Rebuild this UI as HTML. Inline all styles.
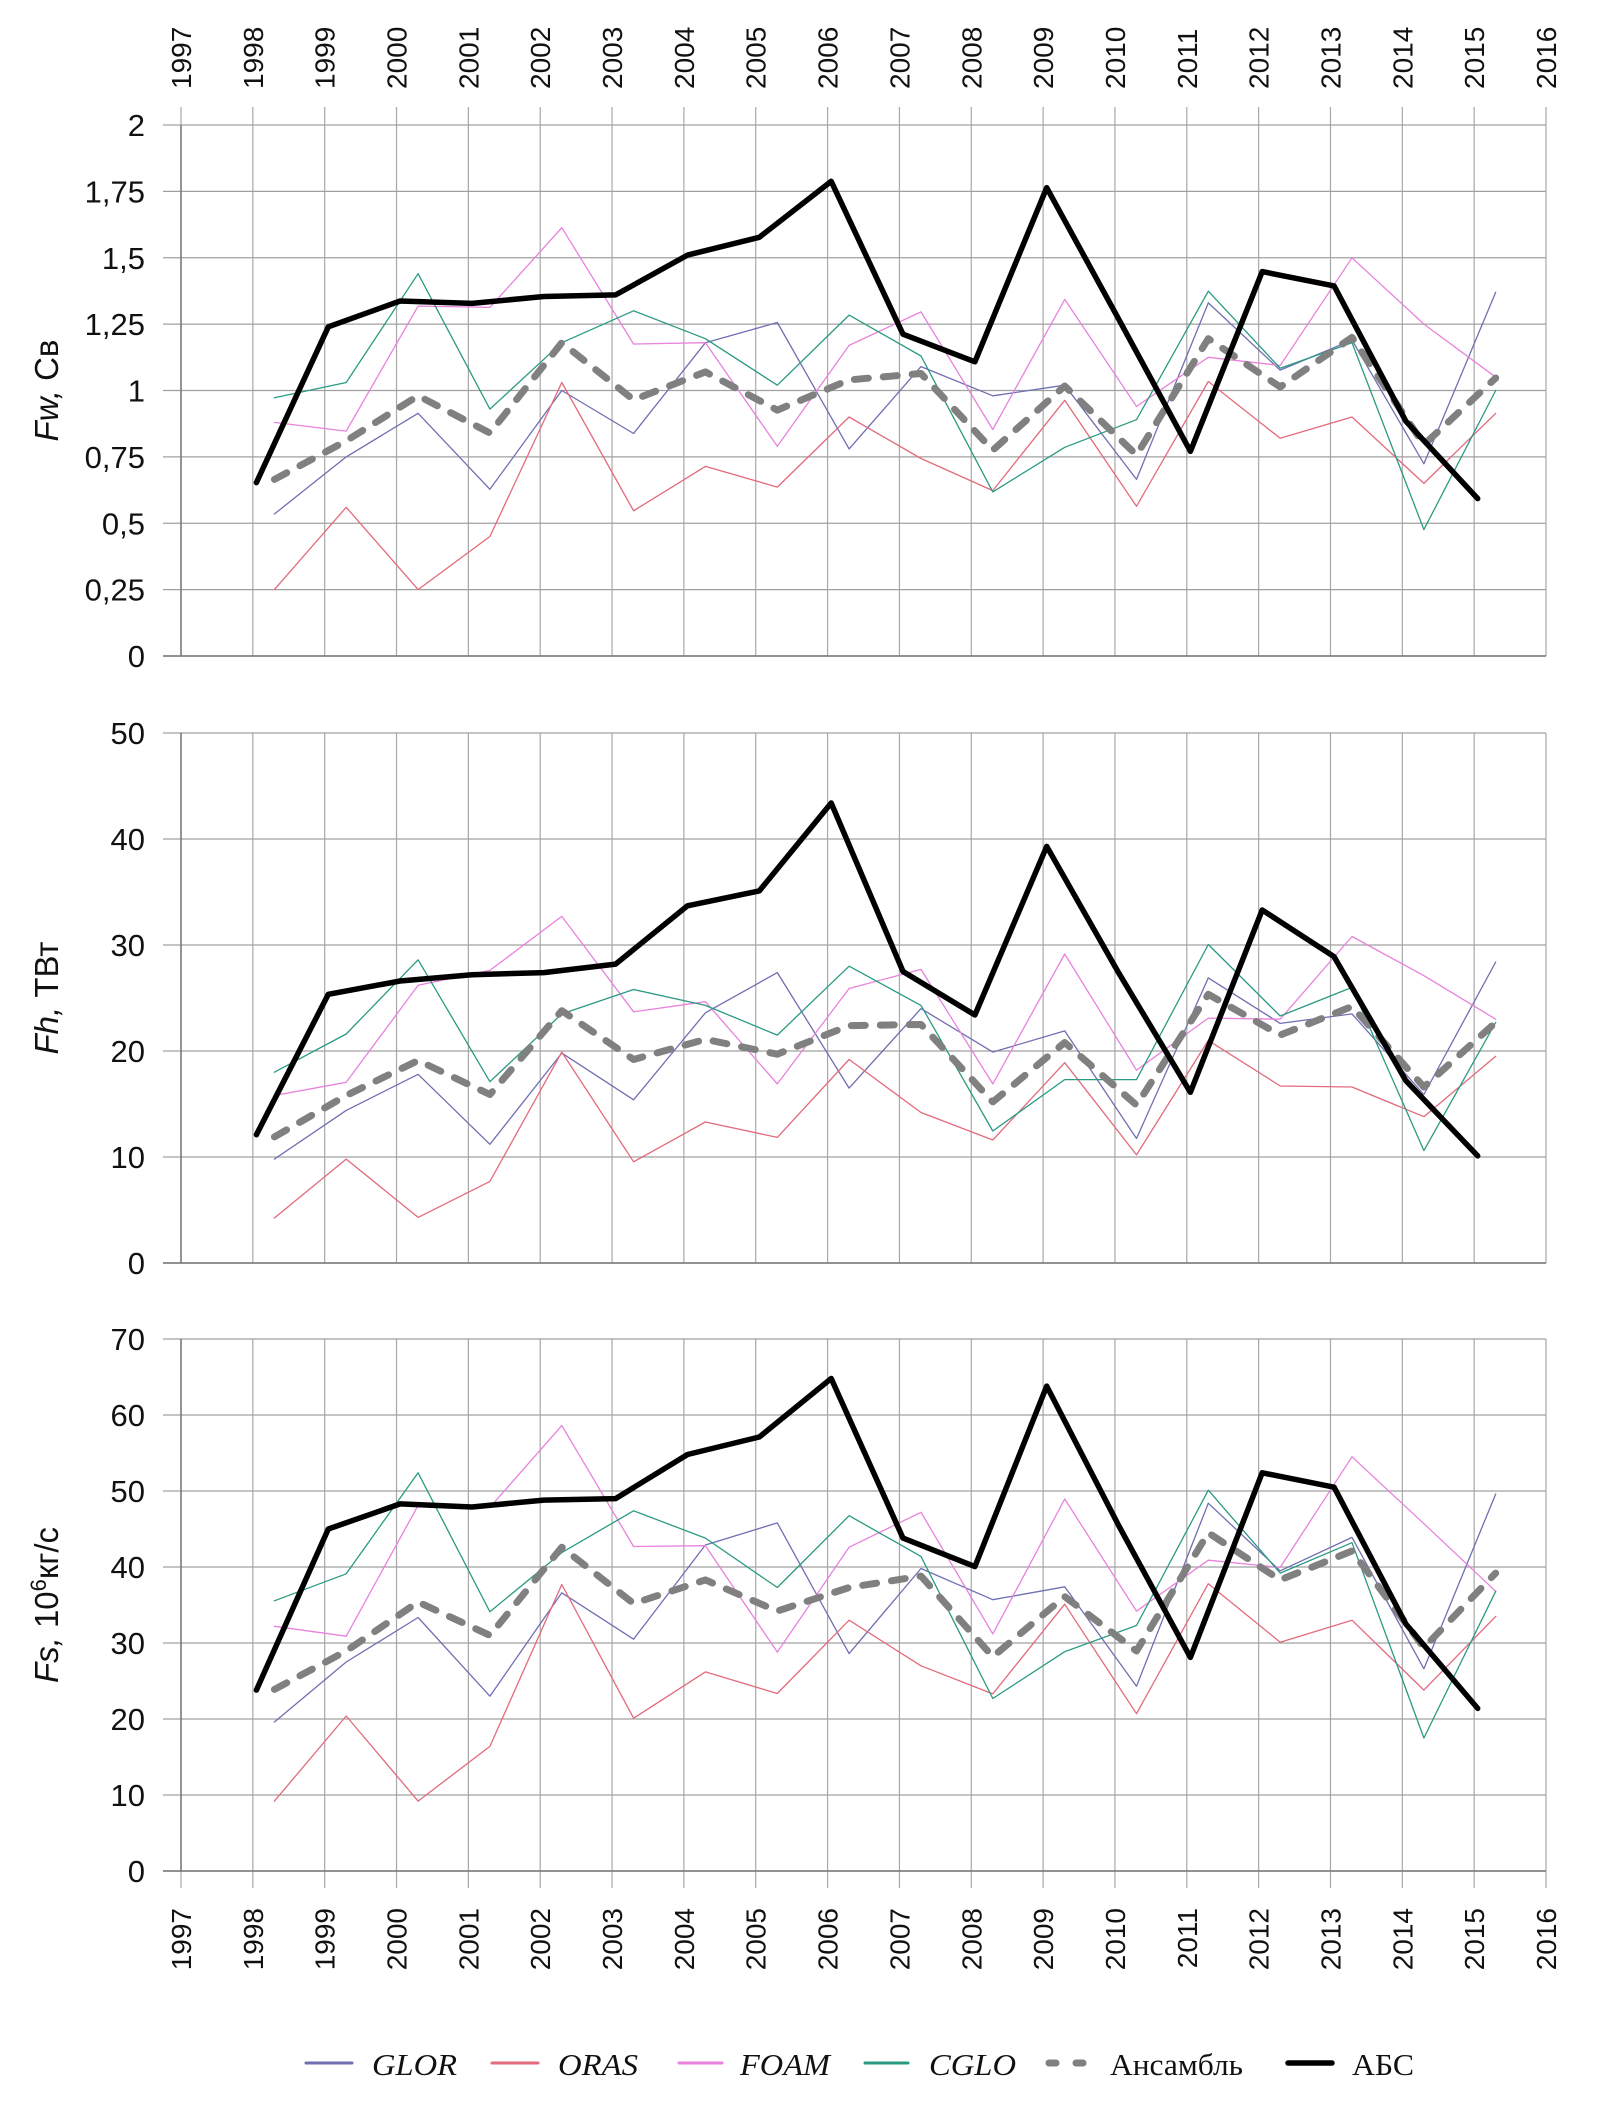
<!DOCTYPE html>
<html><head><meta charset="utf-8"><style>
body{margin:0;background:#fff;}
svg{display:block;font-family:"Liberation Sans",sans-serif;}
</style></head><body>
<svg id="chart" width="1599" height="2122" viewBox="0 0 1599 2122" xmlns="http://www.w3.org/2000/svg"></svg>
<script>
const years = [1998,1999,2000,2001,2002,2003,2004,2005,2006,2007,2008,2009,2010,2011,2012,2013,2014,2015];
const axisYears = [1997,1998,1999,2000,2001,2002,2003,2004,2005,2006,2007,2008,2009,2010,2011,2012,2013,2014,2015,2016];
const fwTicks = ["0","0,25","0,5","0,75","1","1,25","1,5","1,75","2"];
const fhTicks = ["0","10","20","30","40","50"];
const fsTicks = ["0","10","20","30","40","50","60","70"];
const seriesNames = ["GLOR","ORAS","FOAM","CGLO","Ансамбль","АБС"];

const fwGLOR = [0.535,0.75,0.914,0.628,1.0,0.838,1.18,1.256,0.78,1.09,0.98,1.02,0.665,1.33,1.077,1.19,0.724,1.37];
const fwORAS = [0.25,0.56,0.25,0.45,1.03,0.547,0.714,0.636,0.9,0.744,0.623,0.963,0.564,1.034,0.82,0.9,0.65,0.914];
const fwFOAM = [0.88,0.847,1.318,1.313,1.613,1.175,1.18,0.79,1.17,1.296,0.853,1.343,0.94,1.125,1.094,1.5,1.25,1.05];
const fwCGLO = [0.973,1.03,1.44,0.93,1.18,1.3,1.195,1.02,1.284,1.13,0.618,0.786,0.89,1.374,1.084,1.18,0.476,1.0];
const fwENS = [0.665,0.81,0.98,0.84,1.18,0.965,1.07,0.926,1.04,1.064,0.775,1.017,0.757,1.195,1.013,1.2,0.796,1.047];
const fwABS = [0.653,1.24,1.337,1.328,1.354,1.36,1.51,1.577,1.788,1.212,1.108,1.764,1.27,0.771,1.448,1.394,0.884,0.593];

const fhGLOR = [9.8,14.4,17.8,11.2,19.8,15.4,23.6,27.4,16.5,24.0,19.9,21.9,11.75,26.9,22.6,23.5,15.9,28.4];
const fhORAS = [4.25,9.8,4.3,7.7,19.9,9.55,13.3,11.85,19.2,14.2,11.6,18.9,10.2,21.0,16.7,16.6,13.8,19.5];
const fhFOAM = [15.8,17.05,26.2,27.6,32.7,23.7,24.65,16.9,25.9,27.7,16.9,29.15,18.2,23.1,23.0,30.8,27.1,23.0];
const fhCGLO = [18.0,21.6,28.6,17.1,23.5,25.8,24.3,21.5,28.0,24.3,12.45,17.3,17.3,30.05,23.3,26.0,10.6,22.7];
const fhENS = [11.9,15.8,19.1,15.9,23.8,19.2,21.1,19.7,22.4,22.5,15.2,20.8,14.9,25.35,21.5,24.2,16.6,22.7];
const fhABS = [12.1,25.35,26.6,27.2,27.4,28.2,33.7,35.1,43.4,27.5,23.4,39.3,27.4,16.1,33.3,28.9,17.2,10.1];

const fsGLOR = [19.6,27.5,33.35,23.0,36.6,30.5,42.9,45.8,28.6,39.8,35.7,37.4,24.3,48.4,39.5,43.9,26.6,49.6];
const fsORAS = [9.2,20.4,9.2,16.4,37.7,20.1,26.2,23.35,33.0,27.0,23.3,35.1,20.7,37.8,30.1,33.0,23.8,33.5];
const fsFOAM = [32.2,30.9,48.1,47.85,58.6,42.7,42.8,28.8,42.6,47.2,31.2,48.95,34.2,40.9,39.95,54.5,45.7,36.8];
const fsCGLO = [35.55,39.1,52.4,34.1,41.9,47.4,43.8,37.3,46.75,41.4,22.7,28.85,32.3,50.1,39.2,43.2,17.5,36.8];
const fsENS = [23.9,28.95,35.4,31.0,42.6,35.2,38.3,34.2,37.3,38.8,28.2,36.1,28.95,44.5,38.3,42.1,29.4,39.2];
const fsABS = [23.8,45.0,48.3,47.9,48.8,49.0,54.8,57.1,64.8,43.8,40.05,63.8,45.5,28.1,52.4,50.5,32.5,21.4];

const NS="http://www.w3.org/2000/svg";
const svg=document.getElementById('chart');
const X0=181,X1=1546;
function xs(y){return X0+(y-1997)/(2016-1997)*(X1-X0);}
function mk(tag,attrs,parent){const e=document.createElementNS(NS,tag);for(const k in attrs)e.setAttribute(k,attrs[k]);(parent||svg).appendChild(e);return e;}

const styles=[
 {c:"#6f6fb2",w:1.3,off:0.3,dash:null},
 {c:"#e36a7c",w:1.3,off:0.3,dash:null},
 {c:"#e882dc",w:1.3,off:0.3,dash:null},
 {c:"#2a9a82",w:1.3,off:0.3,dash:null},
 {c:"#808080",w:7,off:0.3,dash:"14 15"},
 {c:"#000000",w:5.5,off:0.05,dash:null}
];
const keys=["glor","oras","foam","cglo","ensemble","abs"];

function panel(name,yTop,yBot,vmax,ticks,tickVals,series,title,topLabels,botLabels){
 const g=mk('g',{});
 
 
 const ys=v=>yBot-(v/vmax)*(yBot-yTop);
 axisYears.forEach(yr=>{
  const x=xs(yr);
  const l=mk('line',{x1:x,x2:x,y1:topLabels?107:yTop,y2:botLabels?1888:yBot,stroke:"#a8a8a8","stroke-width":1.2},g);
  
  
 });
 ticks.forEach((t,i)=>{
  const y=ys(tickVals[i]);
  const l=mk('line',{x1:163,x2:X1,y1:y,y2:y,stroke:"#a0a0a0","stroke-width":1.3},g);
  
  
  const tx=mk('text',{x:145,y:y+11,"text-anchor":"end","font-size":31,fill:"#111"},g);
  tx.textContent=t;
  
  
 });
 const ax=mk('line',{x1:X0,x2:X0,y1:yTop,y2:yBot,stroke:"#777","stroke-width":1.5},g);
 
 
 const ax2=mk('line',{x1:163,x2:X1,y1:yBot,y2:yBot,stroke:"#777","stroke-width":1.6},g);
 
 
 if(topLabels){axisYears.forEach(yr=>{const x=xs(yr);
  const t=mk('text',{x:0,y:0,transform:`translate(${x+10},89) rotate(-90)`,"font-size":28,fill:"#111"},g);
  t.textContent=yr;
  
  });}
 if(botLabels){axisYears.forEach(yr=>{const x=xs(yr);
  const t=mk('text',{x:0,y:0,transform:`translate(${x+10},1908) rotate(-90)`,"font-size":28,"text-anchor":"end",fill:"#111"},g);
  t.textContent=yr;
  
  });}
 series.forEach((vals,si)=>{
  const s=styles[si];
  const pts=vals.map((v,i)=>xs(years[i]+s.off).toFixed(1)+","+ys(v).toFixed(1)).join(" ");
  const a={points:pts,fill:"none",stroke:s.c,"stroke-width":s.w,"stroke-linejoin":"round","stroke-linecap":"round"};
  if(s.dash)a["stroke-dasharray"]=s.dash;
  const p=mk('polyline',a,g);
  
  
 });
 const cy=(yTop+yBot)/2;
 const tt=mk('text',{x:0,y:0,transform:`translate(58,${cy}) rotate(-90)`,"text-anchor":"middle","font-size":33,fill:"#111"},g);
 tt.innerHTML=title;
 
 
}
panel('fw',125,656,2,fwTicks,[0,0.25,0.5,0.75,1,1.25,1.5,1.75,2],[fwGLOR,fwORAS,fwFOAM,fwCGLO,fwENS,fwABS],'<tspan font-style="italic">Fw,</tspan> Св',true,false);
panel('fh',733,1263,50,fhTicks,[0,10,20,30,40,50],[fhGLOR,fhORAS,fhFOAM,fhCGLO,fhENS,fhABS],'<tspan font-style="italic">Fh,</tspan> ТВт',false,false);
panel('fs',1339,1871,70,fsTicks,[0,10,20,30,40,50,60,70],[fsGLOR,fsORAS,fsFOAM,fsCGLO,fsENS,fsABS],'<tspan font-style="italic">Fs,</tspan> 10<tspan dy="-12" font-size="22">6</tspan><tspan dy="12">кг/с</tspan>',false,true);

const lg=mk('g',{});


const legX=[[306,352,372,85],[492,538,558,80],[679,722,740,90],[865,908,929,87],[1049,1094,1110,133],[1288,1332,1352,62]];
legX.forEach((L,i)=>{
 const s=styles[i];
 const e=mk('g',{},lg);
 
 
 const a={x1:L[0],x2:L[1],y1:2063,y2:2063,stroke:s.c,"stroke-width":i<4?3:s.w,"stroke-linecap":"round"};
 if(s.dash)a["stroke-dasharray"]="7 20";
 mk('line',a,e);
 const t=mk('text',{x:L[2],y:2075,"font-size":31,"font-family":"Liberation Serif, serif","font-style":i<4?"italic":"normal",textLength:L[3],lengthAdjust:"spacingAndGlyphs",fill:"#111"},e);
 t.textContent=seriesNames[i];
});
</script>
</body></html>
